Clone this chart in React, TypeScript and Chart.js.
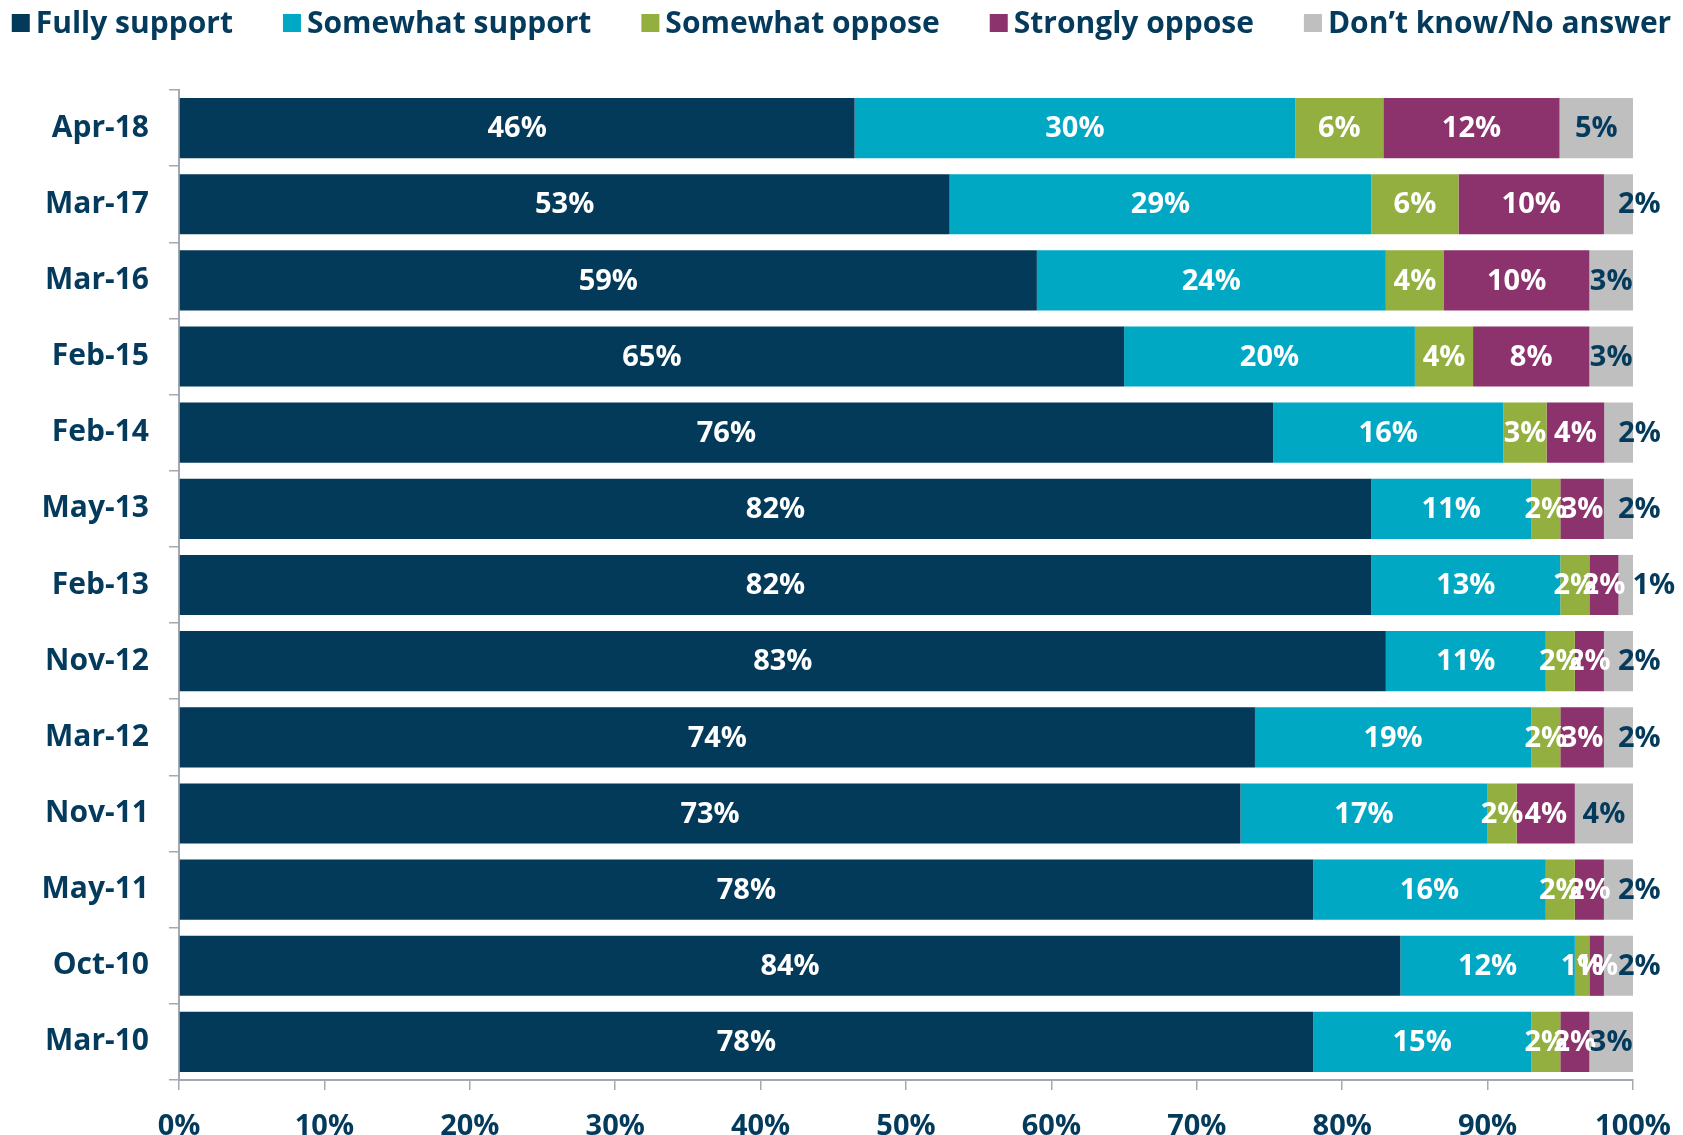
import React, { useEffect, useRef } from "react";
import { Chart, registerables } from "chart.js";

Chart.register(...registerables);

const FONT = '"Open Sans", "Noto Sans", sans-serif';
const NAVY = "#043A5C";
const AXIS = "#A3A9B3";

const categories = ["Apr-18", "Mar-17", "Mar-16", "Feb-15", "Feb-14", "May-13", "Feb-13", "Nov-12", "Mar-12", "Nov-11", "May-11", "Oct-10", "Mar-10"];
const seriesNames = ["Fully support", "Somewhat support", "Somewhat oppose", "Strongly oppose", "Don\u2019t know/No answer"];
const seriesColors = ["#033A5A", "#01A8C4", "#93AF3F", "#8C326D", "#BFBFBF"];

const fullySupport = [46, 53, 59, 65, 76, 82, 82, 83, 74, 73, 78, 84, 78];
const somewhatSupport = [30, 29, 24, 20, 16, 11, 13, 11, 19, 17, 16, 12, 15];
const somewhatOppose = [6, 6, 4, 4, 3, 2, 2, 2, 2, 2, 2, 1, 2];
const stronglyOppose = [12, 10, 10, 8, 4, 3, 2, 2, 3, 4, 2, 1, 2];
const dontKnow = [5, 2, 3, 3, 2, 2, 1, 2, 2, 4, 2, 2, 3];

const xTickValues = [0, 10, 20, 30, 40, 50, 60, 70, 80, 90, 100];

const rawSeries = [fullySupport, somewhatSupport, somewhatOppose, stronglyOppose, dontKnow];
const totals = categories.map((_, j) => rawSeries.reduce((s, arr) => s + arr[j], 0));

const legendPlugin = {
  id: "customLegend",
  afterDraw(chart: any) {
    const ctx = chart.ctx;
    ctx.save();
    ctx.font = `bold 30px ${FONT}`;
    ctx.textBaseline = "middle";
    ctx.textAlign = "left";
    const box = 18;
    const boxGap = 6;
    const itemGap = 50;
    const widths = seriesNames.map((n) => ctx.measureText(n).width);
    const total = widths.reduce((s, w) => s + box + boxGap + w, 0) + itemGap * (seriesNames.length - 1);
    let x = (chart.width - total) / 2;
    const cy = 23;
    seriesNames.forEach((name, i) => {
      ctx.fillStyle = seriesColors[i];
      ctx.fillRect(x, cy - box / 2, box, box);
      x += box + boxGap;
      ctx.fillStyle = NAVY;
      ctx.fillText(name, x, cy + 1);
      x += widths[i] + itemGap;
    });
    ctx.restore();
  },
};

const valueLabelPlugin = {
  id: "valueLabels",
  afterDatasetsDraw(chart: any) {
    const ctx = chart.ctx;
    ctx.save();
    ctx.font = `bold 29px ${FONT}`;
    ctx.textAlign = "center";
    ctx.textBaseline = "middle";
    const last = chart.data.datasets.length - 1;
    chart.data.datasets.forEach((_ds: any, i: number) => {
      const meta = chart.getDatasetMeta(i);
      meta.data.forEach((bar: any, j: number) => {
        const text = rawSeries[i][j] + "%";
        const left = Math.min(bar.x, bar.base);
        const right = Math.max(bar.x, bar.base);
        const w = ctx.measureText(text).width;
        let cx = (left + right) / 2;
        if (i === last && right - left < w) cx = left + 14 + w / 2;
        ctx.fillStyle = i === last ? NAVY : "#FFFFFF";
        ctx.fillText(text, cx, bar.y + 1);
      });
    });
    ctx.restore();
  },
};

export default function App() {
  const canvasRef = useRef<HTMLCanvasElement | null>(null);

  useEffect(() => {
    if (!canvasRef.current) return;
    const datasets = rawSeries.map((arr, i) => ({
      label: seriesNames[i],
      data: arr.map((v, j) => (v / totals[j]) * 100),
      backgroundColor: seriesColors[i],
      borderWidth: 0,
      categoryPercentage: 1,
      barPercentage: 0.79,
    }));
    const chart = new Chart(canvasRef.current, {
      type: "bar",
      data: { labels: categories, datasets },
      options: {
        indexAxis: "y",
        animation: false,
        responsive: true,
        maintainAspectRatio: false,
        layout: { padding: { top: 90, right: 50, left: 0, bottom: 0 } },
        plugins: {
          legend: { display: false },
          tooltip: { enabled: false },
        },
        scales: {
          x: {
            type: "linear",
            stacked: true,
            min: 0,
            max: 100,
            afterBuildTicks: (scale: any) => {
              scale.ticks = xTickValues.map((v) => ({ value: v }));
            },
            afterFit: (scale: any) => {
              scale.height = 55;
            },
            ticks: {
              callback: (v: any) => v + "%",
              color: NAVY,
              font: { family: FONT, size: 29, weight: "bold", lineHeight: 1.95 },
              padding: 8,
              maxRotation: 0,
              autoSkip: false,
            },
            grid: {
              drawOnChartArea: false,
              drawTicks: true,
              tickLength: 10,
              color: AXIS,
              lineWidth: 1.5,
            },
            border: { display: true, color: AXIS, width: 2 },
          },
          y: {
            type: "category",
            stacked: true,
            afterFit: (scale: any) => {
              scale.width = 179;
            },
            ticks: {
              color: NAVY,
              font: { family: FONT, size: 30, weight: "bold" },
              padding: 20,
              autoSkip: false,
            },
            grid: {
              offset: true,
              drawOnChartArea: false,
              drawTicks: true,
              tickLength: 10,
              color: AXIS,
              lineWidth: 1.5,
            },
            border: { display: true, color: AXIS, width: 2 },
          },
        },
      },
      plugins: [legendPlugin, valueLabelPlugin],
    } as any);
    return () => chart.destroy();
  }, []);

  return (
    <div style={{ position: "absolute", left: 0, top: 0, width: 1683, height: 1135, background: "#FFFFFF" }}>
      <canvas ref={canvasRef} />
    </div>
  );
}
